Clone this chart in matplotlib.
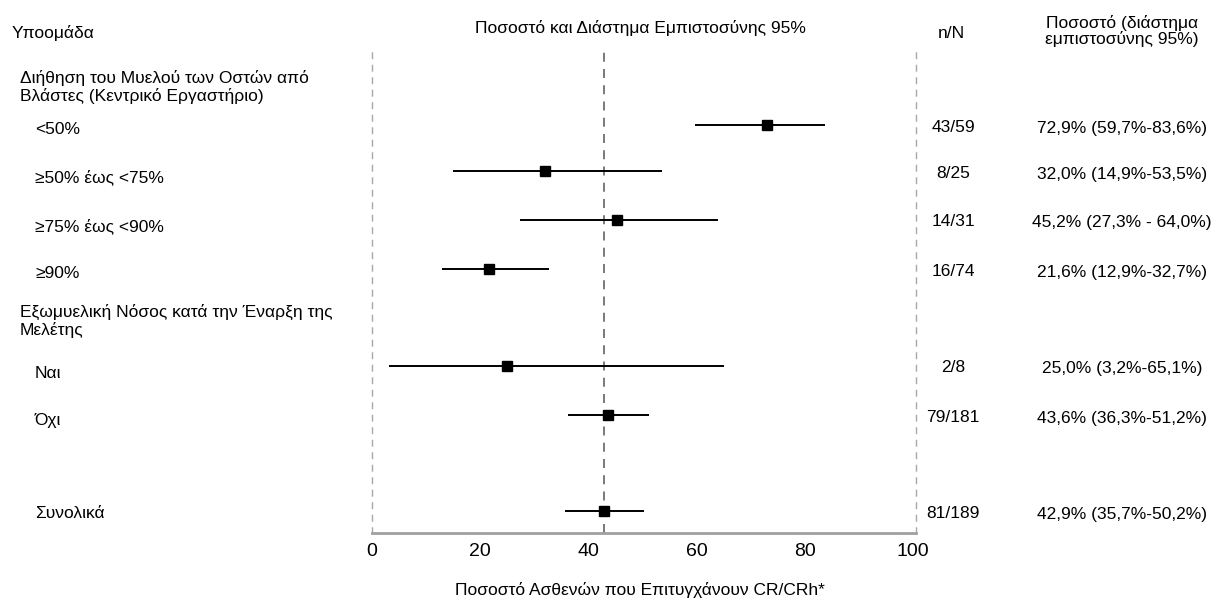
import matplotlib
matplotlib.use("Agg")
import matplotlib.pyplot as plt
import matplotlib.transforms as mtransforms

plt.rcParams['font.family'] = ['Liberation Sans Narrow', 'Liberation Sans', 'DejaVu Sans']

# ---- data ----
subgroups = ["<50%", "≥50% έως <75%", "≥75% έως <90%", "≥90%", "Ναι", "Όχι", "Συνολικά"]
rates = [72.9, 32.0, 45.2, 21.6, 25.0, 43.6, 42.9]
ci_low = [59.7, 14.9, 27.3, 12.9, 3.2, 36.3, 35.7]
ci_high = [83.6, 53.5, 64.0, 32.7, 65.1, 51.2, 50.2]
n_resp = [43, 8, 14, 16, 2, 79, 81]
n_total = [59, 25, 31, 74, 8, 181, 189]
pct_labels = ["72,9% (59,7%-83,6%)", "32,0% (14,9%-53,5%)", "45,2% (27,3% - 64,0%)",
              "21,6% (12,9%-32,7%)", "25,0% (3,2%-65,1%)", "43,6% (36,3%-51,2%)",
              "42,9% (35,7%-50,2%)"]
group_headers = ["Διήθηση του Μυελού των Οστών από\nΒλάστες (Κεντρικό Εργαστήριο)",
                 "Εξωμυελική Νόσος κατά την Έναρξη της\nΜελέτης"]
reference_rate = 42.9
xticks = [0, 20, 40, 60, 80, 100]

# ---- layout (vertical positions in pixel-like units, top = 0) ----
W, H = 1212, 605
row_y = [125, 171, 220, 269, 366, 415, 511]
label_dy = [4, 6, 6, 5, 8, 5, 3]
header_y = [87, 321]

fig = plt.figure(figsize=(W / 100, H / 100), dpi=100)
ax = fig.add_axes([372 / W, 1 - 533 / H, (916 - 372) / W, (533 - 52) / H])
ax.set_xlim(0, 100.5)
ax.set_ylim(533, 52)

fs = 12.5
# reference line
ax.axvline(reference_rate, color="#707070", lw=1.3, ls=(0, (5, 4)), zorder=1)

for y, r, lo, hi in zip(row_y, rates, ci_low, ci_high):
    ax.plot([lo, hi], [y, y], color="black", lw=1.4, zorder=2, solid_capstyle="butt")
    ax.plot([r], [y], marker="s", color="black", markersize=7.5, zorder=3)

# spines
ax.spines["top"].set_visible(False)
for s in ["left", "right"]:
    ax.spines[s].set_linestyle((0, (4, 5)))
    ax.spines[s].set_color("#a8a8a8")
    ax.spines[s].set_linewidth(1.0)
ax.spines["bottom"].set_color("#a0a0a0")
ax.spines["bottom"].set_linewidth(2.0)
ax.set_yticks([])
ax.set_xticks(xticks)
ax.set_xticklabels([str(t) for t in xticks])
ax.tick_params(axis="x", length=0, labelsize=fs + 1.5, pad=7)

fig.text(640 / W, 1 - 590 / H, "Ποσοστό Ασθενών που Επιτυγχάνουν CR/CRh*", fontsize=fs,
         va="center", ha="center")

trans = mtransforms.blended_transform_factory(fig.transFigure, ax.transData)

# headers
fig.text(12 / W, 1 - 33 / H, "Υποομάδα", fontsize=fs, va="center", ha="left")
fig.text(640 / W, 1 - 28 / H, "Ποσοστό και Διάστημα Εμπιστοσύνης 95%", fontsize=fs,
         va="center", ha="center")
fig.text(951 / W, 1 - 33 / H, "n/N", fontsize=fs, va="center", ha="center")
fig.text(1122 / W, 1 - 31 / H, "Ποσοστό (διάστημα\nεμπιστοσύνης 95%)", fontsize=fs,
         va="center", ha="center", linespacing=1.05)

for hy, ht in zip(header_y, group_headers):
    ax.text(20 / W, hy, ht, transform=trans, fontsize=fs, va="center", ha="left",
            linespacing=1.15, clip_on=False)

for y, dy, lab, n, N, pl in zip(row_y, label_dy, subgroups, n_resp, n_total, pct_labels):
    ax.text(35 / W, y + dy, lab, transform=trans, fontsize=fs, va="center", ha="left",
            clip_on=False)
    ax.text(953 / W, y + 2, f"{n}/{N}", transform=trans, fontsize=fs, va="center",
            ha="center", clip_on=False)
    ax.text(1122 / W, y + 3, pl, transform=trans, fontsize=fs, va="center", ha="center",
            clip_on=False)

fig.savefig("out.png", dpi=100, facecolor="white")
